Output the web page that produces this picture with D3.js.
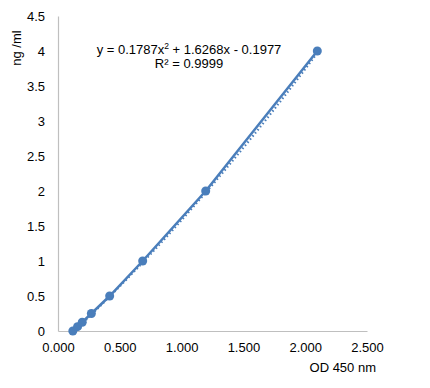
<!DOCTYPE html>
<html>
<head>
<meta charset="utf-8">
<script src="https://cdn.jsdelivr.net/npm/d3@7"></script>
<style>
  body { margin: 0; background: #fff; }
  svg { font-family: "Liberation Sans", Arial, sans-serif; }
</style>
</head>
<body>
<div id="plot"></div>
<script>
// standard curve data
var od_values = [0.120, 0.158, 0.196, 0.270, 0.418, 0.685, 1.195, 2.098];
var conc_values = [0, 0.0625, 0.125, 0.25, 0.5, 1, 2, 4];
var x_ticks = [0, 0.5, 1, 1.5, 2, 2.5];
var y_ticks = [0, 0.5, 1, 1.5, 2, 2.5, 3, 3.5, 4, 4.5];
var fit_coef = [0.1787, 1.6268, -0.1977];

const line_color = "#4a7ebb";
const total_width = 430
const total_height = 388
const margin = {left: 58, top: 16, right: 63, bottom: 57}

var width = total_width - margin.left - margin.right
var height = total_height - margin.top - margin.bottom

var svg = d3.select("#plot")
  .append("svg")
  .attr("width", total_width)
  .attr("height", total_height)
  .append("g")
  .attr("transform", "translate(" + margin.left + "," + margin.top + ")");

var x = d3.scaleLinear().domain([0, 2.5]).range([0, width]);
var y = d3.scaleLinear().domain([0, 4.5]).range([height, 0]);

var xAxis = d3.axisBottom(x).tickValues(x_ticks).tickFormat(d3.format(".3f")).tickSize(0).tickPadding(12);
var gx = svg.append("g").attr("transform", "translate(0," + height + ")").call(xAxis);
var yAxis = d3.axisLeft(y).tickValues(y_ticks).tickFormat(function(d) { return d; }).tickSize(0).tickPadding(13);
var gy = svg.append("g").call(yAxis);

[gx, gy].forEach(function(g) {
  g.select(".domain").attr("stroke", "#bfbfbf").attr("stroke-width", 1.2);
  g.selectAll("text").style("font-size", "13px").attr("fill", "#000");
});

// polynomial trendline (dotted)
var fit_x = d3.range(od_values[0], od_values[od_values.length - 1] + 0.0001, 0.02);
var fit = fit_x.map(function(v) { return [v, fit_coef[0]*v*v + fit_coef[1]*v + fit_coef[2]]; });
svg.append("path").datum(fit)
  .attr("fill", "none").attr("stroke", line_color).attr("stroke-width", 2.2)
  .attr("stroke-dasharray", "1.5,2.5")
  .attr("transform", "translate(1.5,0)")
  .attr("d", d3.line().x(function(d) { return x(d[0]); }).y(function(d) { return y(d[1]); }));

var pts = od_values.map(function(v, i) { return [v, conc_values[i]]; });
svg.append("path").datum(pts)
  .attr("fill", "none").attr("stroke", line_color).attr("stroke-width", 2.5)
  .attr("d", d3.line().x(function(d) { return x(d[0]); }).y(function(d) { return y(d[1]); }));

svg.selectAll("circle.pt").data(pts).enter().append("circle")
  .attr("class", "pt")
  .attr("cx", function(d) { return x(d[0]); })
  .attr("cy", function(d) { return y(d[1]); })
  .attr("r", 4.5)
  .attr("fill", line_color);

// equation label
var eq = svg.append("text").attr("text-anchor", "middle").attr("x", 189 - margin.left).attr("y", 54 - margin.top)
  .style("font-size", "13px");
eq.append("tspan").text("y = 0.1787x");
eq.append("tspan").text("2").attr("dy", -5).style("font-size", "8.5px");
eq.append("tspan").text(" + 1.6268x - 0.1977").attr("dy", 5);
svg.append("text").attr("text-anchor", "middle").attr("x", 189 - margin.left).attr("y", 68 - margin.top)
  .style("font-size", "13px").text("R² = 0.9999");

// axis titles
svg.append("text").attr("text-anchor", "middle")
  .attr("transform", "translate(" + (21 - margin.left) + "," + (48 - margin.top) + ") rotate(-90)")
  .style("font-size", "13px").text("ng /ml");
svg.append("text").attr("text-anchor", "end").attr("x", 376 - margin.left).attr("y", 372 - margin.top)
  .style("font-size", "13px").text("OD 450 nm");
</script>
</body>
</html>
